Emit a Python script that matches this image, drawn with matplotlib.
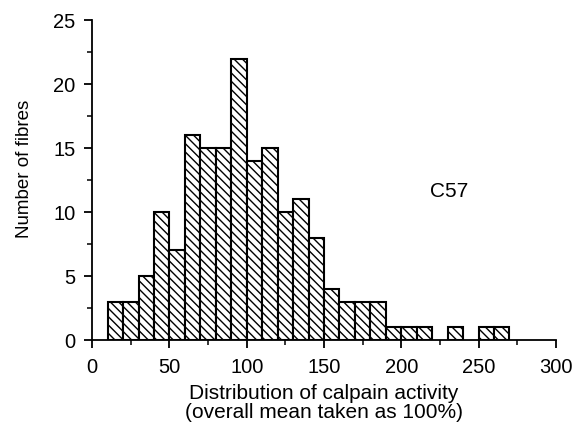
import matplotlib
matplotlib.use("Agg")
import matplotlib.pyplot as plt
import numpy as np
from matplotlib.ticker import MultipleLocator

# histogram of calpain activity, bins of width 10 starting at 10
bin_left = np.arange(10, 270, 10)
counts = [3, 3, 5, 10, 7, 16, 15, 15, 22, 14, 15, 10, 11, 8,
          4, 3, 3, 3, 1, 1, 1, 0, 1, 0, 1, 1]
bin_width = 10

plt.rcParams['font.family'] = ['Liberation Sans', 'DejaVu Sans']
plt.rcParams['hatch.linewidth'] = 1.0

fig = plt.figure(figsize=(5.76, 4.28), dpi=100)
ax = fig.add_axes([0.16, 0.2056, 0.805, 0.747])

mask = np.array(counts) > 0
ax.bar(bin_left[mask], np.array(counts)[mask], width=bin_width, align='edge',
       facecolor='white', edgecolor='black', linewidth=1.5, hatch='\\\\\\\\')

ax.set_xlim(0, 300)
ax.set_ylim(0, 25)
ax.xaxis.set_major_locator(MultipleLocator(50))
ax.xaxis.set_minor_locator(MultipleLocator(25))
ax.yaxis.set_major_locator(MultipleLocator(5))
ax.yaxis.set_minor_locator(MultipleLocator(2.5))
ax.spines['top'].set_visible(False)
ax.spines['right'].set_visible(False)
ax.spines['left'].set_linewidth(1.3)
ax.spines['bottom'].set_linewidth(1.3)
ax.tick_params(which='major', length=6, width=1.3, labelsize=14.5)
ax.tick_params(which='minor', length=3.5, width=1.1)
ax.tick_params(axis='x', which='major', pad=7)
ax.tick_params(axis='y', which='major', pad=6)

ax.set_xlabel("Distribution of calpain activity\n(overall mean taken as 100%)",
              fontsize=15, linespacing=1.0, labelpad=5)
ax.set_ylabel("Number of fibres", fontsize=13.5)
ax.yaxis.set_label_coords(-0.128, 0.534)
ax.text(231, 11.6, "C57", fontsize=15, ha='center', va='center')

fig.savefig("out.png", dpi=100)
